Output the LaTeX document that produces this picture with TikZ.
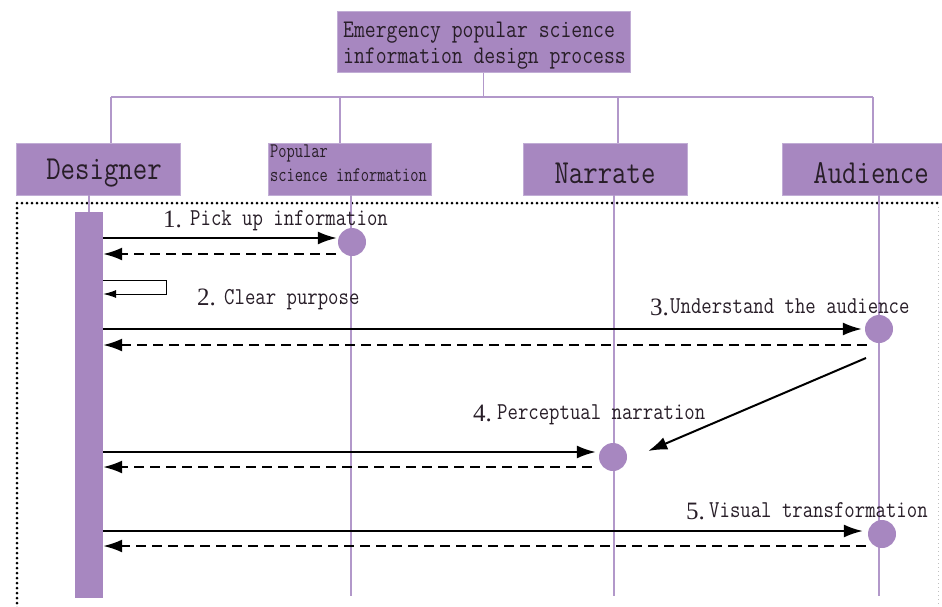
\documentclass[tikz,border=0pt]{standalone}
\usepackage{fontspec}
\usepackage{graphicx}
\usetikzlibrary{arrows.meta,calc}
\newfontfamily\lbserif{Liberation Serif}
\newcommand{\lmmono}{\ttfamily}
\newcommand{\tallA}[1]{\scalebox{1}[1.2]{#1}}
\newcommand{\tallB}[1]{\scalebox{1}[1.3]{#1}}
\definecolor{boxpurple}{RGB}{167,135,192}
\definecolor{linepurple}{RGB}{178,152,202}
\definecolor{txt}{RGB}{40,30,40}
\tikzset{
  hdrbox/.style={draw=linepurple!80, line width=1pt, fill=boxpurple, rectangle, inner sep=0pt},
  lifeln/.style={draw=linepurple, line width=2pt},
  busln/.style={draw=linepurple, line width=1.5pt},
  msgsolid/.style={draw=black, line width=2pt, -{Latex[length=19pt,width=13pt]}},
  msgdash/.style={draw=black, line width=2pt, dash pattern=on 10pt off 6pt, -{Latex[length=19pt,width=13pt]}},
  selfmsg/.style={draw=black, line width=1pt, -{Latex[length=13pt,width=8pt]}},
  callpt/.style={circle, fill=boxpurple, minimum size=28pt, inner sep=0pt},
  lbl/.style={anchor=base west, inner sep=0pt, text=txt, font=\lmmono\fontsize{20.2}{22}\selectfont},
  numlbl/.style={anchor=base west, inner sep=0pt, text=txt, font=\lbserif\fontsize{25}{28}\selectfont},
  hdrtxt/.style={inner sep=0pt, text=txt, font=\lmmono\fontsize{28}{30}\selectfont},
}
\begin{document}
\begin{tikzpicture}[x=1pt,y=-1pt]
\useasboundingbox (0,0) rectangle (942,606);
% header
\node[hdrbox, minimum width=293pt, minimum height=61pt] (title) at (483.5,41.5) {};
\node[anchor=base west, inner sep=0pt, text=txt, font=\lmmono\fontsize{21.1}{22}\selectfont] (t1) at (343,37) {\tallA{Emergency popular science}};
\node[anchor=base west, inner sep=0pt, text=txt, font=\lmmono\fontsize{21.1}{22}\selectfont] (t2) at (343,63) {\tallA{information design process}};
% participant boxes
\node[hdrbox, minimum width=164pt, minimum height=52pt] (designer) at (98,169) {};
\node[hdrtxt, anchor=base] (dt) at (104,179) {\tallA{Designer}};
\node[hdrbox, minimum width=163pt, minimum height=52pt] (popular) at (349.5,169) {};
\node[anchor=base west, inner sep=0pt, text=txt, font=\lmmono\fontsize{16}{18}\selectfont] (pt1) at (270,157) {\tallB{Popular}};
\node[anchor=base west, inner sep=0pt, text=txt, font=\lmmono\fontsize{16}{18}\selectfont] (pt2) at (270,181) {\tallB{science information}};
\node[hdrbox, minimum width=164pt, minimum height=52pt] (narrate) at (605,169) {};
\node[hdrtxt, anchor=base] (nt) at (605,183) {\tallA{Narrate}};
\node[hdrbox, minimum width=178pt, minimum height=52pt] (audience) at (871,169) {};
\node[hdrtxt, anchor=base] (at) at (871,183) {\tallA{Audience}};
% bus lines
\coordinate (busL) at (111,97);
\coordinate (busR) at (873,97);
\draw[busln] (title.south) -- (title.south |- busL);
\draw[busln] (busL) -- (busR);
\draw[busln] (busL) -- (111,143);
\draw[busln] (340,97) -- (340,143);
\draw[busln] (618,97) -- (618,143);
\draw[busln] (busR) -- (873,143);
% dotted frame
\draw[line width=3pt, dash pattern=on 0pt off 5pt, line cap=round] (17,608) -- (17,203) -- (938,203);
\draw[gray!50, line width=0.8pt, dash pattern=on 1pt off 3pt] (938,203) -- (938,606);
% lifelines
\node[rectangle, fill=boxpurple, minimum width=28pt, minimum height=386pt, inner sep=0pt] (bar) at (89,405) {};
\draw[lifeln] (89,195) -- (bar.north);
\coordinate (pend) at (351,596);
\coordinate (nend) at (614,596);
\coordinate (aend) at (879,596);
\draw[lifeln] (351,195) -- (pend);
\draw[lifeln] (614,195) -- (nend);
\draw[lifeln] (879,195) -- (aend);
% activation circles
\node[callpt] (c1) at (352,242) {};
\node[callpt] (c3) at (879,329) {};
\node[callpt] (c4) at (613,457) {};
\node[callpt] (c5) at (882,534) {};
% message 1
\draw[msgsolid] (bar.east |- 0,238) -- ([xshift=-1pt,yshift=4pt]c1.west);
\draw[msgdash] ([xshift=-2pt,yshift=-12pt]c1.west) -- (bar.east |- 0,254);
\node[numlbl] (n1) at (163,227) {1.};
\node[lbl] (l1) at (190,225) {\tallA{Pick up information}};
% message 2 (self)
\draw[selfmsg] (bar.east |- 0,280) -- (166,280) -- (166,294) -- (bar.east |- 0,294);
\node[numlbl] (n2) at (197,305) {2.};
\node[lbl] (l2) at (224,304) {\tallA{Clear purpose}};
% message 3
\draw[msgsolid] (bar.east |- c3.west) -- ([xshift=-3pt]c3.west);
\draw[msgdash] ([xshift=2pt,yshift=-16pt]c3.west) -- (bar.east |- 0,345);
\node[numlbl] (n3) at (650,315) {3.};
\node[lbl] (l3) at (670,313) {\tallA{Understand the audience}};
% message 4
\coordinate (dstart) at (866,358);
\draw[msgsolid] (dstart) -- ([xshift=21pt,yshift=6pt]c4.east);
\draw[msgsolid] (bar.east |- 0,452) -- ([xshift=-3pt,yshift=5pt]c4.west);
\draw[msgdash] ([xshift=-7pt,yshift=-10pt]c4.west) -- (bar.east |- 0,467);
\node[numlbl] (n4) at (473,421) {4.};
\node[lbl] (l4) at (497,419) {\tallA{Perceptual narration}};
% message 5
\draw[msgsolid] (bar.east |- 0,531) -- ([xshift=-5pt,yshift=3pt]c5.west);
\draw[msgdash] ([xshift=-2pt,yshift=-12pt]c5.west) -- (bar.east |- 0,546);
\node[numlbl] (n5) at (686,519) {5.};
\node[lbl] (l5) at (709,517) {\tallA{Visual transformation}};
\end{tikzpicture}
\end{document}
